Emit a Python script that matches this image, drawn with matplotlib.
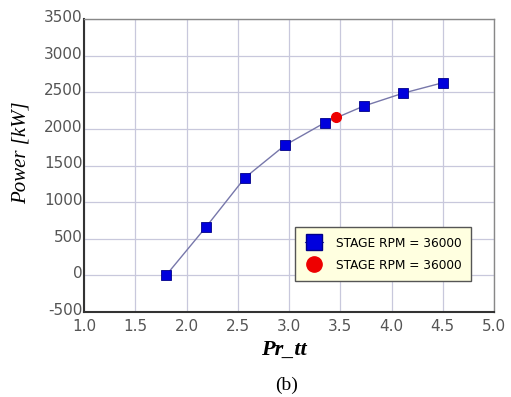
import matplotlib
matplotlib.use("Agg")
import matplotlib.pyplot as plt
import matplotlib.transforms as mtransforms
from matplotlib.lines import Line2D

pr_tt = [1.80, 2.19, 2.57, 2.96, 3.35, 3.73, 4.11, 4.50]
power = [0, 660, 1333, 1776, 2085, 2312, 2486, 2630]
red_x = [3.46]
red_y = [2167]
xticks = [1.0, 1.5, 2.0, 2.5, 3.0, 3.5, 4.0, 4.5, 5.0]
yticks = [-500, 0, 500, 1000, 1500, 2000, 2500, 3000, 3500]
legend_labels = ["STAGE RPM = 36000", "STAGE RPM = 36000"]

W, H = 511, 397
fig = plt.figure(figsize=(W / 100, H / 100), dpi=100)
ax = fig.add_axes([84 / W, 1 - 312 / H, (494 - 84) / W, (312 - 19) / H])

ax.plot(pr_tt, power, color="#7777aa", lw=1.0, zorder=3)
ax.plot(pr_tt, power, ls="none", marker="s", ms=7, mfc="#0000dd", mec="#000088", mew=0.6, zorder=4)
ax.plot(red_x, red_y, ls="none", marker="o", ms=7, mfc="#ee0000", mec="#ee0000", zorder=5)

ax.set_xlim(1.0, 5.0)
ax.set_ylim(-500, 3500)
ax.set_xticks(xticks)
ax.set_yticks(yticks)
ax.set_xticklabels([f"{v:.1f}" for v in xticks])
ax.set_yticklabels([str(v) for v in yticks])
ax.grid(True, color="#c8c8dc", lw=0.9)
ax.set_axisbelow(True)
ax.tick_params(axis="both", length=0, labelsize=11, labelcolor="#555555")
ax.tick_params(axis="x", pad=5)
ax.tick_params(axis="y", pad=1)
offset = mtransforms.ScaledTranslation(0, 3 / 100, fig.dpi_scale_trans)
for lbl in ax.get_yticklabels():
    lbl.set_transform(lbl.get_transform() + offset)
for s in ["top", "right"]:
    ax.spines[s].set_color("#888888")
    ax.spines[s].set_linewidth(1.0)
for s in ["left", "bottom"]:
    ax.spines[s].set_color("#333333")
    ax.spines[s].set_linewidth(1.5)

fig.text(21 / W, 1 - 153 / H, "Power [kW]", family="Liberation Serif", style="italic",
         fontsize=15, rotation=90, ha="center", va="center")
fig.text(284 / W, 1 - 350 / H, "Pr_tt", family="Liberation Serif", style="italic",
         weight="bold", fontsize=16, ha="center", va="center")
fig.text(287 / W, 1 - 385 / H, "(b)", family="Liberation Serif", fontsize=14,
         ha="center", va="center")

handles = [
    Line2D([], [], color="#3333aa", lw=0.8, marker="s", ms=11, mfc="#0000dd", mec="#000088"),
    Line2D([], [], color="none", marker="o", ms=11, mfc="#ee0000", mec="#ee0000"),
]
leg = ax.legend(handles, legend_labels, loc="lower right", bbox_to_anchor=(0.945, 0.105),
                frameon=True, fancybox=False, fontsize=8.7, handlelength=1.5,
                borderpad=0.8, labelspacing=0.75, handletextpad=1.1, borderaxespad=0)
leg.get_frame().set_facecolor("#ffffe0")
leg.get_frame().set_edgecolor("#555555")
leg.get_frame().set_linewidth(1.0)
leg.get_frame().set_alpha(1)

fig.savefig("out.png", dpi=100)
